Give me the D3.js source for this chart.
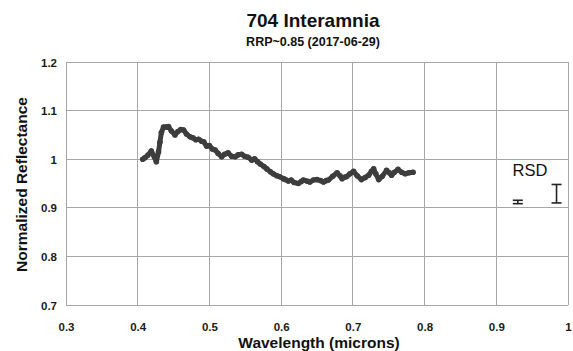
<!DOCTYPE html>
<html>
<head>
<meta charset="utf-8">
<script src="https://cdn.jsdelivr.net/npm/d3@7"></script>
<style>
  body { margin: 0; background: #fff; }
  svg { display: block; font-family: "Liberation Sans", Arial, sans-serif; }
</style>
</head>
<body>
<svg id="chart" width="573" height="351"></svg>
<script>
// ---- data ----
const wavelength = [0.407,0.410,0.414,0.419,0.423,0.426,0.429,0.431,0.433,0.436,0.440,0.443,0.447,0.452,0.456,0.460,0.464,0.468,0.473,0.477,0.481,0.485,0.489,0.492,0.496,0.500,0.504,0.508,0.512,0.517,0.521,0.526,0.531,0.536,0.540,0.545,0.549,0.554,0.559,0.563,0.567,0.571,0.576,0.580,0.585,0.589,0.594,0.598,0.603,0.606,0.610,0.614,0.618,0.624,0.628,0.631,0.636,0.640,0.645,0.650,0.655,0.659,0.663,0.666,0.672,0.678,0.682,0.685,0.688,0.691,0.696,0.701,0.706,0.712,0.717,0.722,0.726,0.729,0.732,0.736,0.741,0.747,0.751,0.754,0.758,0.763,0.768,0.773,0.778,0.784];
const reflectance = [1.000,1.003,1.008,1.017,1.005,0.995,1.015,1.035,1.055,1.066,1.066,1.067,1.058,1.050,1.057,1.061,1.060,1.052,1.046,1.044,1.040,1.041,1.037,1.036,1.027,1.028,1.021,1.019,1.012,1.005,1.010,1.013,1.006,1.005,1.009,1.010,1.006,1.004,0.998,1.001,0.995,0.990,0.985,0.980,0.974,0.970,0.966,0.964,0.960,0.958,0.955,0.957,0.952,0.950,0.954,0.957,0.955,0.953,0.957,0.958,0.956,0.953,0.956,0.957,0.965,0.972,0.966,0.960,0.963,0.964,0.970,0.975,0.966,0.958,0.962,0.967,0.975,0.980,0.970,0.958,0.965,0.977,0.972,0.967,0.973,0.979,0.973,0.970,0.972,0.973];
const xTicks = [0.3,0.4,0.5,0.6,0.7,0.8,0.9,1];
const yTicks = [0.7,0.8,0.9,1,1.1,1.2];
const rsdX = [0.930, 0.984];
const rsdY = [0.912, 0.929];
const rsdErr = [0.0035, 0.019];
const titleText = "704 Interamnia";
const subtitleText = "RRP~0.85 (2017-06-29)";
const xLabel = "Wavelength (microns)";
const yLabel = "Normalized Reflectance";
const rsdLabel = "RSD";

// ---- layout ----
const svg = d3.select("#chart");
const L = 66, R = 568, T = 62, B = 305;
const x = d3.scaleLinear().domain([0.3, 1]).range([L, R]);
const y = d3.scaleLinear().domain([0.7, 1.2]).range([B, T]);
const gridColor = "#a6a6a6";

// gridlines
svg.append("g").selectAll("line").data(yTicks).join("line")
  .attr("x1", L).attr("x2", R)
  .attr("y1", d => y(d)).attr("y2", d => y(d))
  .attr("stroke", gridColor).attr("stroke-width", 1).attr("shape-rendering", "crispEdges");
svg.append("g").selectAll("line").data(xTicks).join("line")
  .attr("y1", T).attr("y2", B)
  .attr("x1", d => x(d)).attr("x2", d => x(d))
  .attr("stroke", gridColor).attr("stroke-width", 1).attr("shape-rendering", "crispEdges");

// axes (labels only)
const xAxis = d3.axisBottom(x).tickValues(xTicks).tickSize(0).tickPadding(0)
  .tickFormat(d => d === 1 ? "1" : d3.format(".1f")(d));
const gx = svg.append("g").attr("transform", `translate(0,${B + 26})`).call(xAxis);
gx.select(".domain").remove();
gx.selectAll("text").attr("dy", 0).attr("y", 0)
  .style("font-size", "11.5px").style("font-weight", "bold").attr("fill", "#1a1a1a")
  .style("font-family", "'Liberation Sans', Arial, sans-serif");

const yAxis = d3.axisLeft(y).tickValues(yTicks).tickSize(0).tickPadding(0)
  .tickFormat(d => d === 1 ? "1" : d3.format(".1f")(d));
const gy = svg.append("g").attr("transform", `translate(${L - 9},0)`).call(yAxis);
gy.select(".domain").remove();
gy.selectAll("text").attr("dy", "0.35em")
  .style("font-size", "11.5px").style("font-weight", "bold").attr("fill", "#1a1a1a")
  .style("font-family", "'Liberation Sans', Arial, sans-serif");

// data
const pts = wavelength.map((w, i) => [w, reflectance[i]]);
svg.append("path").datum(pts)
  .attr("d", d3.line().x(d => x(d[0])).y(d => y(d[1])))
  .attr("fill", "none").attr("stroke", "#3d3d3d").attr("stroke-width", 5)
  .attr("stroke-linejoin", "round").attr("stroke-linecap", "round");
svg.append("g").selectAll("circle").data(pts).join("circle")
  .attr("cx", d => x(d[0])).attr("cy", d => y(d[1])).attr("r", 2.8)
  .attr("fill", "#3d3d3d");

// RSD error bars
const eb = svg.append("g").attr("stroke", "#222").attr("stroke-width", 1.6);
rsdX.forEach((xv, i) => {
  const cx = x(xv), y1 = y(rsdY[i] + rsdErr[i]), y2 = y(rsdY[i] - rsdErr[i]);
  eb.append("line").attr("x1", cx).attr("x2", cx).attr("y1", y1).attr("y2", y2);
  eb.append("line").attr("x1", cx - 5).attr("x2", cx + 5).attr("y1", y1).attr("y2", y1);
  eb.append("line").attr("x1", cx - 5).attr("x2", cx + 5).attr("y1", y2).attr("y2", y2);
});
svg.append("text").attr("x", 530).attr("y", 176).attr("text-anchor", "middle")
  .style("font-size", "16.5px").attr("fill", "#111").text(rsdLabel);

// titles
svg.append("text").attr("x", 313).attr("y", 27).attr("text-anchor", "middle")
  .style("font-size", "19px").style("font-weight", "bold").attr("fill", "#111").text(titleText);
svg.append("text").attr("x", 313).attr("y", 46).attr("text-anchor", "middle")
  .style("font-size", "12.5px").style("font-weight", "bold").attr("fill", "#111").text(subtitleText);
svg.append("text").attr("x", 319).attr("y", 348).attr("text-anchor", "middle")
  .style("font-size", "15.5px").style("font-weight", "bold").attr("fill", "#111").text(xLabel);
svg.append("text").attr("transform", `translate(27,${(T + B) / 2 + 1}) rotate(-90)`)
  .attr("text-anchor", "middle")
  .style("font-size", "15.5px").style("font-weight", "bold").attr("fill", "#111").text(yLabel);
</script>
</body>
</html>
